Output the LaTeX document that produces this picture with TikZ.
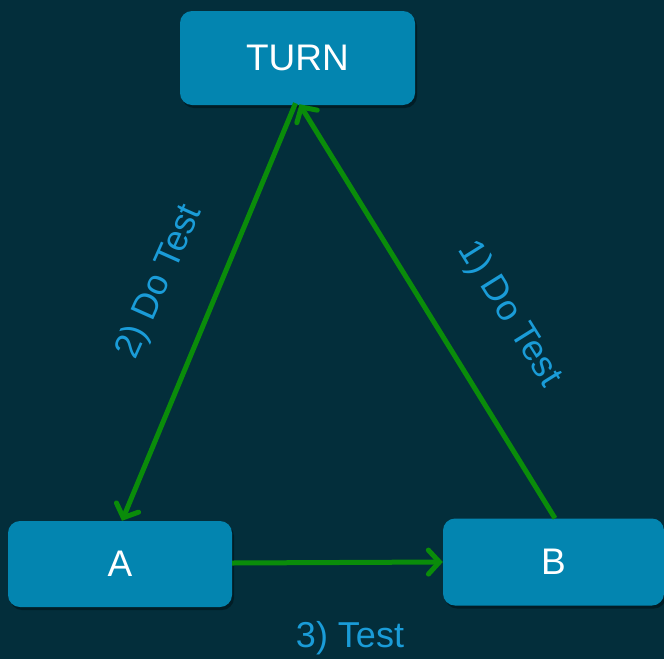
\documentclass[tikz,border=0pt]{standalone}
\usepackage{fontspec}
\setmainfont{Liberation Sans}
\usetikzlibrary{arrows.meta,shadows}
\definecolor{bgc}{HTML}{032E3B}
\definecolor{boxc}{HTML}{0385B0}
\definecolor{arrc}{HTML}{0A8C0A}
\definecolor{labc}{HTML}{1A9CD8}
\tikzset{
  box/.style={rounded corners=12pt, fill=boxc, text=white, inner sep=0pt,
    font=\fontsize{37}{40}\selectfont,
    drop shadow={shadow xshift=2pt, shadow yshift=-3pt, opacity=0.35, fill=black}},
  arr/.style={draw=arrc, line width=5pt,
    -{Straight Barb[length=11pt,width=24pt,line cap=round]}},
  lab/.style={text=labc, font=\fontsize{36}{40}\selectfont, inner sep=0pt}
}
\begin{document}
\begin{tikzpicture}[x=1pt,y=-1pt]
\fill[bgc] (0,0) rectangle (664,659);
\useasboundingbox (0,0) rectangle (664,659);
\node[box, minimum width=235pt, minimum height=94pt] (turn) at (297.5,58) {TURN};
\node[box, minimum width=224pt, minimum height=86pt] (a) at (120,564) {A};
\node[box, minimum width=221pt, minimum height=87pt] (b) at (553.5,562) {B};
\draw[arr] ([xshift=1.5pt]b.north) -- ([xshift=2pt,yshift=1pt]turn.south);
\draw[arr] ([xshift=-2pt,yshift=2pt]turn.south) -- ([xshift=2pt]a.north);
\draw[arr] ([yshift=1pt]a.east) -- (b.west);
\node[lab, rotate=66] (l2) at (160,282) {2) Do Test};
\node[lab, rotate=-58] (l1) at (509,314) {1) Do Test};
\node[lab] (l3) at (350,638) {3) Test};
\end{tikzpicture}
\end{document}
